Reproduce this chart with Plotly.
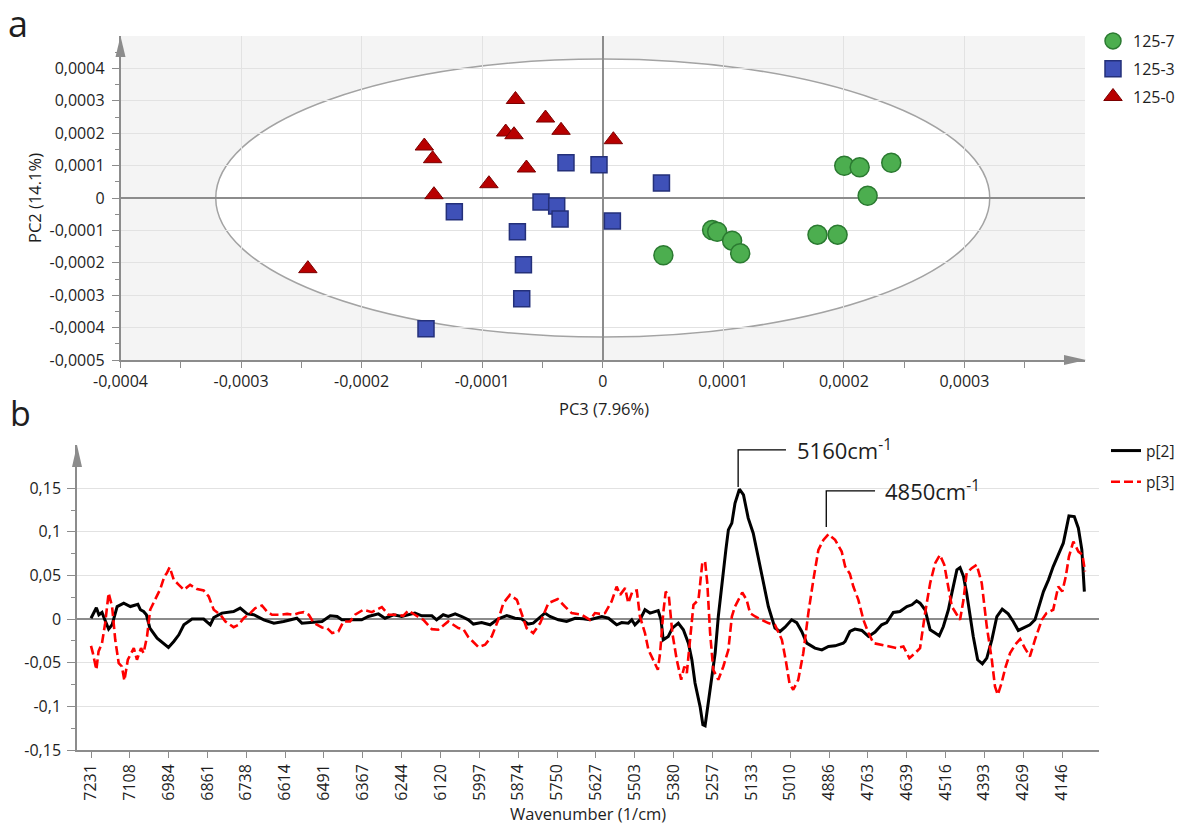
import plotly.graph_objects as go

W, H = 1178, 826
FONT = "Open Sans"
AXIS_GREY = "#8c8c8c"
GRID_GREY = "#e2e2e2"
TEXT = "#1e1e1e"


def fx(x):
    """pixel column -> paper fraction"""
    return x / W


def fy(y):
    """pixel row -> paper fraction"""
    return 1 - y / H


# ---------------- (a) score plot, PC3 vs PC2 ----------------
pc3_125_7 = [5.03e-5, 9.07e-5, 9.49e-5, 1.073e-4, 1.140e-4, 1.781e-4,
             1.948e-4, 2.003e-4, 2.131e-4, 2.197e-4, 2.393e-4]
pc2_125_7 = [-1.768e-4, -9.87e-5, -1.04e-4, -1.317e-4, -1.706e-4, -1.132e-4,
             -1.132e-4, 9.97e-5, 9.47e-5, 7.1e-6, 1.089e-4]

pc3_125_3 = [-3.05e-5, -3.1e-6, 4.87e-5, -1.231e-4, -5.12e-5, -3.82e-5,
             -3.54e-5, 8.0e-6, -7.08e-5, -6.58e-5, -6.72e-5, -1.466e-4]
pc2_125_3 = [1.089e-4, 1.027e-4, 4.63e-5, -4.23e-5, -1.23e-5, -2.47e-5,
             -6.48e-5, -7.1e-5, -1.04e-4, -2.058e-4, -3.107e-4, -4.033e-4]

pc3_125_0 = [-7.24e-5, -4.75e-5, -8.05e-5, -7.36e-5, -3.46e-5, 8.8e-6,
             -1.480e-4, -1.411e-4, -6.33e-5, -9.44e-5, -1.400e-4, -2.446e-4]
pc2_125_0 = [3.040e-4, 2.468e-4, 2.036e-4, 1.953e-4, 2.089e-4, 1.799e-4,
             1.604e-4, 1.213e-4, 9.26e-5, 4.41e-5, 1.02e-5, -2.181e-4]

# Hotelling T2 (95%) ellipse semi-axes
t2_pc3 = 3.21e-4
t2_pc2 = 4.29e-4

score_x_ticks = [-4e-4, -3e-4, -2e-4, -1e-4, 0, 1e-4, 2e-4, 3e-4]
score_x_text = ["-0,0004", "-0,0003", "-0,0002", "-0,0001", "0",
                "0,0001", "0,0002", "0,0003"]
score_x_minor = [-3.5e-4, -2.5e-4, -1.5e-4, -0.5e-4, 0.5e-4, 1.5e-4, 2.5e-4, 3.5e-4]
score_y_ticks = [4e-4, 3e-4, 2e-4, 1e-4, 0, -1e-4, -2e-4, -3e-4, -4e-4, -5e-4]
score_y_text = ["0,0004", "0,0003", "0,0002", "0,0001", "0", "-0,0001",
                "-0,0002", "-0,0003", "-0,0004", "-0,0005"]
score_y_minor = [4.5e-4, 3.5e-4, 2.5e-4, 1.5e-4, 0.5e-4, -0.5e-4, -1.5e-4,
                 -2.5e-4, -3.5e-4, -4.5e-4]

# ---------------- (b) loading line plot ----------------
wn_p2 = [7231, 7214, 7206, 7196, 7189, 7175, 7164, 7157, 7148, 7127,
         7106, 7095, 7082, 7074, 7064, 7055, 7044, 7021, 6998, 6985,
         6968, 6952, 6936, 6910, 6873, 6852, 6841, 6815, 6778, 6757,
         6735, 6714, 6682, 6650, 6619, 6577, 6561, 6534, 6497, 6471,
         6449, 6434, 6371, 6350, 6318, 6297, 6270, 6244, 6202, 6180,
         6148, 6133, 6112, 6096, 6074, 6053, 6032, 6016, 5990, 5963,
         5937, 5910, 5884, 5863, 5842, 5826, 5810, 5789, 5773, 5746,
         5720, 5693, 5667, 5646, 5608, 5587, 5561, 5545, 5524, 5513,
         5503, 5487, 5471, 5455, 5429, 5420, 5413, 5397, 5384, 5365,
         5349, 5333, 5322, 5312, 5296, 5287, 5280, 5270, 5259, 5248,
         5238, 5227, 5214, 5206, 5195, 5185, 5171, 5158, 5143, 5127,
         5111, 5095, 5079, 5058, 5042, 5026, 5005, 4989, 4973, 4957,
         4931, 4909, 4888, 4867, 4841, 4835, 4820, 4804, 4782, 4761,
         4740, 4719, 4703, 4682, 4661, 4639, 4623, 4608, 4597, 4581,
         4565, 4549, 4536, 4523, 4507, 4496, 4480, 4470, 4459, 4449,
         4438, 4428, 4414, 4399, 4385, 4369, 4353, 4336, 4317, 4301,
         4285, 4269, 4248, 4232, 4221, 4205, 4189, 4174, 4158, 4142,
         4131, 4124, 4107, 4094, 4083, 4075]
p2 = [0.001, 0.013, 0.005, 0.0076, 0.001, -0.0115, -0.0065, 0.003, 0.0144, 0.0183,
      0.0144, 0.0156, 0.017, 0.0107, 0.0087, 0.005, -0.0103, -0.0218, -0.0286, -0.0325,
      -0.0256, -0.018, -0.0065, 0.0, 0.0, -0.0065, 0.0018, 0.0069, 0.0087, 0.0126,
      0.006, 0.005, -0.0008, -0.0046, -0.0027, 0.001, -0.0046, -0.004, -0.0027, 0.0038,
      0.003, -0.0008, -0.0008, 0.003, 0.006, 0.001, 0.005, 0.003, 0.0069, 0.0038,
      0.0038, -0.0008, 0.005, 0.003, 0.006, 0.003, -0.0008, -0.0057, -0.0039, -0.0065,
      0.0003, 0.0041, 0.001, 0.0003, -0.0057, -0.0046, 0.0003, 0.0069, 0.003, -0.0008,
      -0.0027, 0.001, 0.0003, -0.0008, 0.003, 0.001, -0.0065, -0.004, -0.0046, -0.0008,
      -0.0065, -0.0008, 0.0107, 0.0069, 0.0098, -0.0008, -0.0237, -0.0199, -0.0103, -0.0046,
      -0.0122, -0.0275, -0.0466, -0.0733, -0.1, -0.121, -0.1222, -0.0962, -0.0695, -0.0389,
      0.003, 0.0412, 0.0794, 0.1023, 0.11, 0.1328, 0.1489, 0.1424, 0.1157, 0.0985,
      0.0717, 0.0412, 0.0144, -0.0103, -0.0142, -0.0092, -0.0008, -0.004, -0.0142, -0.0275,
      -0.0332, -0.0352, -0.0314, -0.0306, -0.0275, -0.0256, -0.0142, -0.0115, -0.013, -0.0199,
      -0.0149, -0.0065, -0.0039, 0.0076, 0.0087, 0.0144, 0.0164, 0.021, 0.0183, 0.0107,
      -0.0122, -0.016, -0.0191, -0.0085, 0.0107, 0.0298, 0.0565, 0.0591, 0.0488, 0.0298,
      0.003, -0.0199, -0.0466, -0.0512, -0.0447, -0.0237, 0.003, 0.0115, 0.006, -0.0027,
      -0.013, -0.0103, -0.0065, -0.0008, 0.0126, 0.0316, 0.045, 0.0602, 0.0736, 0.087,
      0.106, 0.1183, 0.1175, 0.1042, 0.0794, 0.0316]

wn_p3 = [7231, 7225, 7214, 7207, 7196, 7186, 7175, 7164, 7154, 7143,
         7133, 7125, 7114, 7104, 7095, 7085, 7072, 7064, 7053, 7043,
         7027, 7011, 6998, 6990, 6981, 6968, 6952, 6936, 6916, 6894,
         6873, 6857, 6841, 6820, 6804, 6778, 6762, 6746, 6725, 6709,
         6688, 6672, 6656, 6630, 6608, 6587, 6571, 6555, 6539, 6523,
         6497, 6481, 6465, 6445, 6429, 6408, 6392, 6366, 6339, 6307,
         6286, 6260, 6239, 6223, 6202, 6175, 6148, 6128, 6096, 6064,
         6048, 6032, 6000, 5979, 5958, 5937, 5921, 5900, 5878, 5863,
         5847, 5826, 5804, 5778, 5748, 5725, 5704, 5672, 5646, 5630,
         5614, 5598, 5577, 5561, 5550, 5534, 5524, 5511, 5497, 5487,
         5471, 5460, 5444, 5430, 5423, 5413, 5405, 5395, 5384, 5370,
         5356, 5346, 5338, 5328, 5317, 5301, 5289, 5280, 5273, 5264,
         5254, 5238, 5222, 5206, 5195, 5185, 5169, 5162, 5148, 5137,
         5121, 5100, 5079, 5058, 5036, 5024, 5012, 5000, 4984, 4968,
         4952, 4936, 4920, 4904, 4888, 4867, 4846, 4835, 4820, 4809,
         4793, 4777, 4761, 4745, 4719, 4698, 4671, 4650, 4631, 4613,
         4597, 4581, 4565, 4549, 4534, 4520, 4507, 4496, 4480, 4470,
         4459, 4449, 4433, 4417, 4401, 4385, 4369, 4359, 4350, 4338,
         4325, 4311, 4295, 4279, 4264, 4248, 4232, 4210, 4195, 4174,
         4158, 4145, 4134, 4124, 4110, 4094, 4081, 4073]
p3 = [-0.0306, -0.039, -0.058, -0.037, -0.0275, -0.0046, 0.0298, 0.0144, -0.0237, -0.0504,
      -0.0543, -0.0703, -0.0466, -0.039, -0.0332, -0.0466, -0.0332, -0.039, -0.0199, 0.0107,
      0.0229, 0.0344, 0.0488, 0.0527, 0.0595, 0.045, 0.0393, 0.0336, 0.0393, 0.0344,
      0.0328, 0.0259, 0.0107, 0.005, -0.0027, -0.0092, -0.0065, 0.001, 0.0069, 0.0126,
      0.0156, 0.0087, 0.005, 0.005, 0.006, 0.005, 0.0069, 0.008, 0.005, -0.0046,
      -0.0096, -0.0103, -0.016, -0.0142, -0.0027, -0.0027, 0.005, 0.0107, 0.008, 0.0137,
      0.005, 0.005, 0.0038, 0.0098, 0.005, -0.0008, -0.0115, -0.0122, -0.0027, -0.0103,
      -0.0115, -0.0206, -0.0321, -0.0294, -0.0199, -0.0008, 0.0183, 0.0278, 0.0221, 0.0069,
      -0.0103, -0.016, -0.0046, 0.0183, 0.0229, 0.0144, 0.0069, 0.005, -0.0008, 0.0069,
      0.006, 0.0069, 0.0202, 0.0373, 0.0278, 0.0355, 0.0183, 0.0316, 0.0328, 0.003,
      -0.016, -0.0352, -0.0466, -0.058, -0.039, 0.0069, 0.0316, 0.0259, -0.016, -0.0466,
      -0.0695, -0.0543, -0.0618, -0.0237, 0.0164, 0.0221, 0.0641, 0.066, 0.0412, -0.016,
      -0.058, -0.0695, -0.0543, -0.0352, 0.003, 0.0144, 0.0259, 0.0305, 0.0221, 0.0069,
      0.003, -0.0008, -0.0046, -0.0065, -0.0237, -0.0466, -0.0733, -0.081, -0.0695, -0.039,
      0.0069, 0.045, 0.0794, 0.0908, 0.0973, 0.0908, 0.0774, 0.0602, 0.052, 0.0373,
      0.0221, -0.0008, -0.016, -0.0275, -0.0294, -0.0314, -0.0332, -0.0314, -0.0447, -0.039,
      -0.0332, 0.0069, 0.0412, 0.0641, 0.0736, 0.0622, 0.0336, 0.0144, 0.005, -0.0008,
      0.0221, 0.0527, 0.0584, 0.0622, 0.0412, -0.0085, -0.0466, -0.0772, -0.0867, -0.0733,
      -0.0543, -0.039, -0.0294, -0.0229, -0.0332, -0.0428, -0.0237, -0.0008, 0.0069, 0.0107,
      0.0373, 0.0316, 0.0488, 0.0717, 0.0889, 0.0774, 0.0736, 0.0545]

wn_ticks = [7231, 7108, 6984, 6861, 6738, 6614, 6491, 6367, 6244, 6120, 5997, 5874, 5750,
            5627, 5503, 5380, 5257, 5133, 5010, 4886, 4763, 4639, 4516, 4393, 4269, 4146]
wn_tick_text = [str(v) for v in wn_ticks]
load_y_ticks = [0.15, 0.1, 0.05, 0, -0.05, -0.1, -0.15]
load_y_text = ["0,15", "0,1", "0,05", "0", "-0,05", "-0,1", "-0,15"]
load_y_minor = [0.125, 0.075, 0.025, -0.025, -0.075, -0.125]

# band labels: leader x, leader bottom/top, end of the horizontal leader, text start
band_5160 = dict(x=5175, y0=0.1515, y1=0.1939, x_end=5023, text="5160cm<sup>-1</sup>", tx=4994)
band_4850 = dict(x=4895, y0=0.1057, y1=0.147, x_end=4740, text="4850cm<sup>-1</sup>", tx=4715)

fig = go.Figure()

# score markers
fig.add_trace(go.Scatter(
    x=pc3_125_7, y=pc2_125_7, mode="markers", name="125-7",
    marker=dict(symbol="circle", size=19, color="#4cae4f",
                line=dict(color="#2b7a31", width=1.5)),
    xaxis="x", yaxis="y", legend="legend", legendgroup="g7"))
fig.add_trace(go.Scatter(
    x=pc3_125_3, y=pc2_125_3, mode="markers", name="125-3",
    marker=dict(symbol="square", size=16, color="#3f51b8",
                line=dict(color="#24307a", width=1.5)),
    xaxis="x", yaxis="y", legend="legend", legendgroup="g3"))
fig.add_trace(go.Scatter(
    x=pc3_125_0, y=pc2_125_0, mode="markers", name="125-0",
    marker=dict(symbol="triangle-up", size=16, color="#b80000",
                line=dict(color="#7a0000", width=1)),
    xaxis="x", yaxis="y", legend="legend", legendgroup="g0"))

# loading lines
fig.add_trace(go.Scatter(
    x=wn_p2, y=p2, mode="lines", name="p[2]",
    line=dict(color="black", width=3),
    xaxis="x2", yaxis="y2", legend="legend2", legendgroup="p2"))
fig.add_trace(go.Scatter(
    x=wn_p3, y=p3, mode="lines", name="p[3]",
    line=dict(color="#ff0000", width=2.6, dash="9px,4px"),
    xaxis="x2", yaxis="y2", legend="legend2", legendgroup="p3"))

tick_font = dict(family=FONT, size=16, color=TEXT)
base_axis = dict(showline=True, linecolor=AXIS_GREY, linewidth=1.5, ticks="outside",
                 tickcolor=AXIS_GREY, tickwidth=1, tickfont=tick_font,
                 gridcolor=GRID_GREY, gridwidth=1, zerolinecolor=AXIS_GREY,
                 zerolinewidth=1.5, fixedrange=True, tickmode="array",
                 automargin=False)

shapes = [
    # grey plotting field and white T2 ellipse for the score plot
    dict(type="rect", xref="x domain", yref="y domain", x0=0, x1=1, y0=0, y1=1,
         fillcolor="#f4f4f4", line=dict(width=0), layer="below"),
    dict(type="circle", xref="x", yref="y", x0=-t2_pc3, x1=t2_pc3, y0=-t2_pc2, y1=t2_pc2,
         fillcolor="white", line=dict(color="#a3a3a3", width=1.5), layer="below"),
    # axis arrow heads
    dict(type="path", xref="paper", yref="paper",
         path=f"M {fx(120.5)},{fy(36)} L {fx(115.5)},{fy(57)} L {fx(125.5)},{fy(57)} Z",
         fillcolor=AXIS_GREY, line=dict(width=0)),
    dict(type="path", xref="paper", yref="paper",
         path=f"M {fx(1086)},{fy(360)} L {fx(1064)},{fy(355)} L {fx(1064)},{fy(365)} Z",
         fillcolor=AXIS_GREY, line=dict(width=0)),
    dict(type="path", xref="paper", yref="paper",
         path=f"M {fx(77)},{fy(445)} L {fx(72)},{fy(467)} L {fx(82)},{fy(467)} Z",
         fillcolor=AXIS_GREY, line=dict(width=0)),
]


def label(text, x, y, size, angle=0):
    return dict(text=text, x=fx(x), y=fy(y), xref="paper", yref="paper",
                xanchor="center", yanchor="middle", showarrow=False, textangle=angle,
                font=dict(family=FONT, size=size, color=TEXT))


annotations = [
    label("a", 18, 24, 36),
    label("b", 20, 413, 34),
    label("PC3 (7.96%)", 604, 409, 16.5),
    label("PC2 (14.1%)", 34, 198, 16.5, angle=-90),
    label("Wavenumber (1/cm)", 588, 813, 16.5),
]
for b in (band_5160, band_4850):
    shapes.append(dict(type="path", xref="x2", yref="y2",
                       path=f"M {b['x']},{b['y0']} L {b['x']},{b['y1']} L {b['x_end']},{b['y1']}",
                       line=dict(color="black", width=1.3)))
    annotations.append(dict(text=b["text"], x=b["tx"], y=b["y1"], xref="x2", yref="y2",
                            xanchor="left", yanchor="middle", showarrow=False,
                            font=dict(family=FONT, size=22, color=TEXT)))

fig.update_layout(
    width=W, height=H, autosize=False,
    margin=dict(l=0, r=0, t=0, b=0, autoexpand=False),
    paper_bgcolor="white", plot_bgcolor="white",
    font=dict(family=FONT, size=16, color=TEXT),
    showlegend=True,
    xaxis=dict(base_axis, domain=[fx(120.5), fx(1085)], range=[-4e-4, 4e-4],
               tickvals=score_x_ticks, ticktext=score_x_text, ticklen=6,
               showgrid=True, zeroline=True, anchor="y",
               minor=dict(tickmode="array", tickvals=score_x_minor, ticklen=6,
                          tickcolor=AXIS_GREY, showgrid=False)),
    yaxis=dict(base_axis, domain=[fy(360), fy(36)], range=[-5e-4, 5e-4],
               tickvals=score_y_ticks, ticktext=score_y_text, ticklen=7,
               ticklabelstandoff=4, showgrid=True, zeroline=True, anchor="x",
               minor=dict(tickmode="array", tickvals=score_y_minor, ticklen=4,
                          tickcolor=AXIS_GREY, showgrid=False)),
    xaxis2=dict(base_axis, domain=[fx(77), fx(1099)], range=[7275.5, 4028.5],
                tickvals=wn_ticks, ticktext=wn_tick_text, tickangle=-90, ticklen=6,
                showgrid=False, zeroline=False, anchor="y2"),
    yaxis2=dict(base_axis, domain=[fy(750), fy(444.6)], range=[-0.15, 0.2],
                tickvals=load_y_ticks, ticktext=load_y_text, ticklen=8,
                ticklabelstandoff=3, showgrid=True, zeroline=True, anchor="x2",
                minor=dict(tickmode="array", tickvals=load_y_minor, ticklen=4,
                           tickcolor=AXIS_GREY, showgrid=False)),
    legend=dict(x=fx(1093), y=fy(24), xanchor="left", yanchor="top",
                bgcolor="rgba(0,0,0,0)", tracegroupgap=4,
                font=dict(family=FONT, size=16, color=TEXT)),
    legend2=dict(x=fx(1106), y=fy(434), xanchor="left", yanchor="top",
                 bgcolor="rgba(0,0,0,0)", tracegroupgap=8,
                 font=dict(family=FONT, size=15.5, color=TEXT)),
    shapes=shapes,
    annotations=annotations,
)

fig.write_html("out.html", config={"displayModeBar": False})
